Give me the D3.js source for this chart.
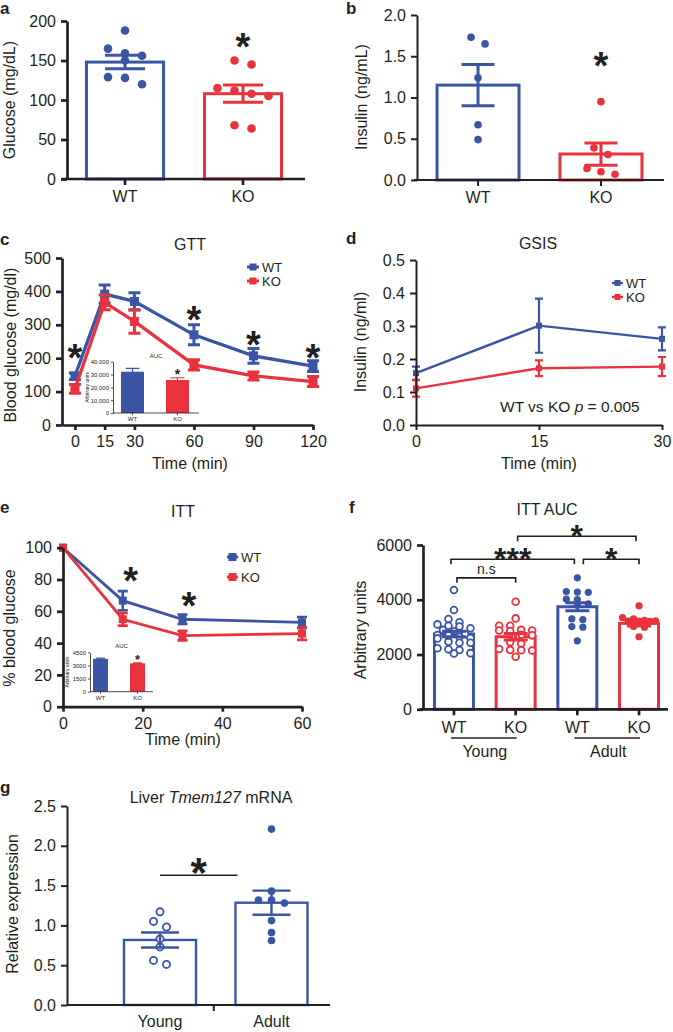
<!DOCTYPE html>
<html><head><meta charset="utf-8">
<script src="https://cdn.jsdelivr.net/npm/d3@7"></script>
<style>
body{margin:0;background:#fff;}
svg{display:block;}
</style></head><body>
<svg id="chart" width="673" height="1032"></svg>
<script>
// ---------------- DATA ----------------
const groupsAB = ["WT", "KO"];
// a: fasting glucose
const glucoseWT = [188, 165, 159, 156, 150, 129, 128, 120];
const glucoseKO = [150, 145, 115, 112, 108, 105, 68, 64];
const glucoseMean = [148, 108];
const glucoseSEM = [8.5, 11];
const glucoseTicks = [0, 50, 100, 150, 200];
// b: insulin
const insulinWT = [1.73, 1.65, 1.24, 0.67, 0.49];
const insulinKO = [0.95, 0.39, 0.31, 0.14, 0.10, 0.07];
const insulinMean = [1.15, 0.315];
const insulinSEM = [0.25, 0.135];
const insulinTicks = [0, 0.5, 1.0, 1.5, 2.0];
// c: GTT
const gttTime = [0, 15, 30, 60, 90, 120];
const gttWT = [146, 392, 370, 270, 207, 176];
const gttWTsem = [10, 27, 26, 30, 22, 16];
const gttKO = [108, 367, 310, 180, 147, 130];
const gttKOsem = [13, 22, 35, 15, 12, 15];
const gttSig = [[0, 224], [60, 338], [90, 263], [120, 224]];
const gttYTicks = [0, 100, 200, 300, 400, 500];
const gttAuc = [32200, 25700];
const gttAucSem = [2600, 1800];
const gttAucTicks = [0, 10000, 20000, 30000, 40000];
const gttAucSig = [32750];
// d: GSIS
const gsisTime = [0, 15, 30];
const gsisWT = [0.157, 0.301, 0.261];
const gsisWTsem = [0.02, 0.082, 0.035];
const gsisKO = [0.111, 0.172, 0.177];
const gsisKOsem = [0.025, 0.024, 0.029];
const gsisYTicks = [0, 0.1, 0.2, 0.3, 0.4, 0.5];
// e: ITT
const ittTime = [0, 15, 30, 60];
const ittWT = [100, 66.7, 55, 53];
const ittWTsem = [0, 6, 3, 3.4];
const ittKO = [100, 55, 44.7, 46];
const ittKOsem = [0, 4, 3, 4];
const ittSig = [[17, 84], [31.6, 68.4]];
const ittYTicks = [0, 20, 40, 60, 80, 100];
const ittXTicks = [0, 20, 40, 60];
const ittAuc = [3750, 3240];
const ittAucSem = [80, 60];
const ittAucTicks = [0, 1500, 3000, 4500];
const ittAucSig = [3960];
// f: ITT AUC
const fGroups = ["YWT", "YKO", "AWT", "AKO"];
const fLabels = ["WT", "KO", "WT", "KO"];
const fYoungWT = [4355, 3625, 3297, 3175, 3100, 3050, 3020, 2960, 2900, 2850, 2740, 2710, 2650, 2600, 2590, 2470, 2430, 2430, 2230, 2190, 2165, 2040, 2050, 2700];
const fYoungKO = [3930, 3320, 3050, 3050, 2900, 2880, 2880, 2860, 2720, 2700, 2650, 2450, 2400, 2200, 2170, 2160, 2150, 1920];
const fAdultWT = [4800, 4300, 4280, 4270, 4020, 4010, 3850, 3800, 3300, 3280, 3020, 3000, 2500];
const fAdultKO = [3780, 3350, 3300, 3250, 3230, 3220, 3220, 3210, 3020, 3000, 2650];
const fMean = [2750, 2650, 3745, 3140];
const fSem = [100, 115, 150, 95];
const fTicks = [0, 2000, 4000, 6000];
const fBrackets = [[0, 1, 4800, "n.s"], [0, 2, 5480, "***"], [2, 3, 5480, "*"], [1, 3, 6320, "*"]];
// g: liver Tmem127
const gGroups = ["Young", "Adult"];
const gYoung = [1.17, 1.05, 0.98, 0.83, 0.73, 0.51, 0.56];
const gAdult = [2.21, 1.43, 1.32, 1.28, 1.32, 1.06, 0.91, 0.81];
const gMean = [0.817, 1.285];
const gSem = [0.094, 0.152];
const gTicks = [0, 0.5, 1.0, 1.5, 2.0, 2.5];
const gSigLevel = 1.63, gSigStar = 1.78;

// ---------------- STYLE ----------------
const BLUE = "#3a55a4", RED = "#e8323d", INK = "#231f20";
const FONT = "'Liberation Sans', Arial, Helvetica, sans-serif";
const svg = d3.select("#chart").attr("font-family", FONT);

function txt(x, y, s, o = {}) {
  const t = svg.append("text").attr("x", x).attr("y", y)
    .attr("font-size", o.fs || 16).attr("fill", INK)
    .attr("text-anchor", o.anchor || "middle");
  if (o.bold) t.attr("font-weight", "bold");
  if (o.rot) t.attr("transform", `rotate(-90,${x},${y})`);
  t.text(s);
  return t;
}
function star(x, cy, size, s = "*") {
  return svg.append("text").attr("x", x).attr("y", cy + size * 0.56)
    .attr("text-anchor", "middle").attr("font-size", size).attr("font-weight", "bold")
    .attr("fill", INK).text(s);
}
function styleAxis(g, fs, sw) {
  g.attr("font-family", FONT).attr("font-size", fs);
  g.selectAll("path.domain").attr("stroke", INK).attr("stroke-width", sw);
  g.selectAll(".tick line").attr("stroke", INK).attr("stroke-width", sw);
  g.selectAll(".tick text").attr("fill", INK);
}
function yAxis(y, x0, ticks, fmt, fs, sw, tsize = 6, pad = 5) {
  const g = svg.append("g").attr("transform", `translate(${x0},0)`)
    .call(d3.axisLeft(y).tickValues(ticks).tickFormat(fmt).tickSize(tsize).tickPadding(pad).tickSizeOuter(0));
  styleAxis(g, fs, sw);
  return g;
}
function xAxisBand(x, y0, labels, fs, sw, tsize, pad, extent) {
  const g = svg.append("g").attr("transform", `translate(0,${y0})`)
    .call(d3.axisBottom(x).tickFormat((d, i) => labels[i]).tickSize(tsize).tickPadding(pad).tickSizeOuter(0));
  styleAxis(g, fs, sw);
  if (extent) g.select("path.domain").attr("d", `M${extent[0]},0H${extent[1]}`);
  return g;
}
function errBar(g, cx, y, m, s, color, capW, sw) {
  const y1 = y(m + s), y2 = y(m - s);
  g.append("path")
    .attr("d", `M${cx},${y1}V${y2}M${cx - capW / 2},${y1}H${cx + capW / 2}M${cx - capW / 2},${y2}H${cx + capW / 2}`)
    .attr("stroke", color).attr("stroke-width", sw).attr("fill", "none");
}
// row-based scatter layout (points with close values share a row, spread symmetrically)
function rowsLayout(vals, y, binH, s, maxPerRow) {
  const order = vals.map((v, i) => ({ i, y: y(v) })).sort((a, b) => a.y - b.y);
  const out = new Array(vals.length);
  let row = [];
  const flush = () => { row.forEach((p, k) => out[p.i] = (k - (row.length - 1) / 2) * s); row = []; };
  for (const p of order) {
    if (row.length && (p.y - row[0].y > binH || row.length >= maxPerRow)) flush();
    row.push(p);
  }
  flush();
  return out;
}
function dots(g, cx, y, vals, color, r, open, lay) {
  const off = rowsLayout(vals, y, lay.bin, lay.s, lay.max);
  g.selectAll(null).data(vals).join("circle")
    .attr("cx", (v, i) => cx + off[i]).attr("cy", v => y(v)).attr("r", r)
    .attr("fill", open ? "#fff" : color).attr("stroke", color).attr("stroke-width", open ? 1.8 : 0);
}
function barChart(x, y, groups, means, colors, sw) {
  const g = svg.append("g");
  g.selectAll("rect").data(groups).join("rect")
    .attr("x", d => x(d)).attr("width", x.bandwidth())
    .attr("y", (d, i) => y(means[i])).attr("height", (d, i) => y(0) - y(means[i]))
    .attr("fill", "#fff").attr("stroke", (d, i) => colors[i]).attr("stroke-width", sw);
  return g;
}
function lineSeries(x, y, times, vals, sems, color, o) {
  const g = svg.append("g");
  g.append("path").datum(times.map((t, i) => [t, vals[i]]))
    .attr("d", d3.line().x(d => x(d[0])).y(d => y(d[1])))
    .attr("fill", "none").attr("stroke", color).attr("stroke-width", o.lw);
  times.forEach((t, i) => { if (sems[i] > 0) errBar(g, x(t), y, vals[i], sems[i], color, o.cap, o.ew); });
  g.selectAll("rect").data(times).join("rect")
    .attr("x", t => x(t) - o.ms / 2).attr("y", (t, i) => y(vals[i]) - o.ms / 2)
    .attr("width", o.ms).attr("height", o.ms).attr("fill", color);
  return g;
}
function legend(x, y, label, color, o) {
  svg.append("line").attr("x1", x).attr("x2", x + o.len).attr("y1", y).attr("y2", y)
    .attr("stroke", color).attr("stroke-width", o.lw);
  svg.append("rect").attr("x", x + o.len / 2 - o.ms / 2).attr("y", y - o.ms / 2)
    .attr("width", o.ms).attr("height", o.ms).attr("fill", color);
  txt(x + o.len + 3, y + o.fs * 0.36, label, { fs: o.fs, anchor: "start" });
}
function inset(o) {
  const x = d3.scaleBand().domain(groupsAB).range(o.xr).paddingInner(o.pi).paddingOuter(o.po);
  const y = d3.scaleLinear().domain([0, o.ticks[o.ticks.length - 1]]).range(o.yr);
  const g = svg.append("g");
  g.selectAll("rect").data(groupsAB).join("rect")
    .attr("x", d => x(d)).attr("width", x.bandwidth())
    .attr("y", (d, i) => y(o.vals[i])).attr("height", (d, i) => y(0) - y(o.vals[i]))
    .attr("fill", (d, i) => [BLUE, RED][i]);
  groupsAB.forEach((d, i) => errBar(g, x(d) + x.bandwidth() / 2, y, o.vals[i], o.sems[i], [BLUE, RED][i], x.bandwidth() * 0.6, 1.2));
  yAxis(y, o.xr[0], o.ticks, o.fmt, o.fs, 0.8, 2, 2);
  xAxisBand(x, o.yr[0], groupsAB, o.fs, 0.8, 2, 2, [o.xr[0], o.xEnd]);
  txt((o.xr[0] + o.xEnd) / 2 + o.aucDx, o.yr[1] - 4, "AUC", { fs: o.fs });
  txt(o.ylx, (o.yr[0] + o.yr[1]) / 2, "Arbitrary units", { fs: o.fs - 1, rot: true });
  star(x("KO") + x.bandwidth() / 2, y(o.sig), o.starSize);
}

// ---------------- PANEL a ----------------
{
  const x = d3.scaleBand().domain(groupsAB).range([66, 302]).paddingInner(0.347).paddingOuter(0.1735);
  const y = d3.scaleLinear().domain([0, 200]).range([179, 21]);
  const g = barChart(x, y, groupsAB, glucoseMean, [BLUE, RED], 3);
  const c = d => x(d) + x.bandwidth() / 2;
  const lay = { bin: 8, s: 17, max: 4 };
  dots(g, c("WT"), y, glucoseWT, BLUE, 4.3, false, lay);
  dots(g, c("KO"), y, glucoseKO, RED, 4.3, false, lay);
  errBar(g, c("WT"), y, glucoseMean[0], glucoseSEM[0], BLUE, 40, 3);
  errBar(g, c("KO"), y, glucoseMean[1], glucoseSEM[1], RED, 40, 3);
  yAxis(y, 67, glucoseTicks, d3.format("d"), 16, 2.7);
  xAxisBand(x, 179, groupsAB, 16, 2.7, 6, 6, [62, 305]);
  txt(15, 100, "Glucose (mg/dL)", { rot: true });
  txt(0, 14, "a", { bold: true, fs: 17, anchor: "start" });
  star(c("KO"), y(178), 38);
}
// ---------------- PANEL b ----------------
{
  const x = d3.scaleBand().domain(groupsAB).range([417, 662]).paddingInner(0.333).paddingOuter(0.163);
  const y = d3.scaleLinear().domain([0, 2]).range([180, 15]);
  const g = barChart(x, y, groupsAB, insulinMean, [BLUE, RED], 3);
  const c = d => x(d) + x.bandwidth() / 2;
  const lay = { bin: 7, s: 14, max: 3 };
  dots(g, c("WT"), y, insulinWT, BLUE, 3.8, false, lay);
  dots(g, c("KO"), y, insulinKO, RED, 3.8, false, lay);
  errBar(g, c("WT"), y, insulinMean[0], insulinSEM[0], BLUE, 33, 3);
  errBar(g, c("KO"), y, insulinMean[1], insulinSEM[1], RED, 33, 3);
  yAxis(y, 417, insulinTicks, d3.format(".1f"), 16, 2);
  xAxisBand(x, 180, groupsAB, 16, 2, 6, 6, [414, 664]);
  txt(367, 97, "Insulin (ng/mL)", { rot: true });
  txt(346, 14, "b", { bold: true, fs: 17, anchor: "start" });
  star(c("KO"), y(1.485), 38);
}
// ---------------- PANEL c ----------------
{
  const x = d3.scaleLinear().domain([-6.5, 120]).range([62, 313]);
  const y = d3.scaleLinear().domain([0, 500]).range([425, 258]);
  const o = { lw: 3.3, cap: 12, ew: 3, ms: 9 };
  lineSeries(x, y, gttTime, gttWT, gttWTsem, BLUE, o);
  lineSeries(x, y, gttTime, gttKO, gttKOsem, RED, o);
  yAxis(y, 62, gttYTicks, d3.format("d"), 16, 2.7);
  const gx = svg.append("g").attr("transform", "translate(0,425)")
    .call(d3.axisBottom(x).tickValues(gttTime).tickSize(5).tickPadding(6).tickSizeOuter(0));
  styleAxis(gx, 16, 2.7);
  gttSig.forEach(([t, v]) => star(x(t), y(v), 38));
  txt(190, 250, "GTT");
  txt(190, 469, "Time (min)");
  txt(16, 345, "Blood glucose (mg/dl)", { rot: true });
  txt(0, 245, "c", { bold: true, fs: 17, anchor: "start" });
  legend(247, 267, "WT", BLUE, { len: 12, lw: 3, ms: 7, fs: 13 });
  legend(247, 281, "KO", RED, { len: 12, lw: 3, ms: 7, fs: 13 });
  inset({ xr: [113, 197], pi: 0.489, po: 0.178, xEnd: 199, yr: [413, 361.7], ticks: gttAucTicks, fmt: d3.format(","),
    vals: gttAuc, sems: gttAucSem, fs: 6, aucDx: 0, ylx: 89, sig: gttAucSig[0], starSize: 14 });
}
// ---------------- PANEL d ----------------
{
  const x = d3.scaleLinear().domain([0, 30]).range([416, 662]);
  const y = d3.scaleLinear().domain([0, 0.5]).range([425, 260]);
  const o = { lw: 2.4, cap: 8, ew: 2.2, ms: 6 };
  lineSeries(x, y, gsisTime, gsisWT, gsisWTsem, BLUE, o);
  lineSeries(x, y, gsisTime, gsisKO, gsisKOsem, RED, o);
  yAxis(y, 416, gsisYTicks, d3.format(".1f"), 16, 2);
  const gx = svg.append("g").attr("transform", "translate(0,425)")
    .call(d3.axisBottom(x).tickValues(gsisTime).tickSize(5).tickPadding(6).tickSizeOuter(0));
  styleAxis(gx, 16, 2);
  txt(538, 249, "GSIS");
  txt(539, 469, "Time (min)");
  txt(366, 342, "Insulin (ng/ml)", { rot: true });
  txt(346, 244, "d", { bold: true, fs: 17, anchor: "start" });
  legend(612, 283, "WT", BLUE, { len: 11, lw: 2.4, ms: 6, fs: 13 });
  legend(612, 297, "KO", RED, { len: 11, lw: 2.4, ms: 6, fs: 13 });
  const a = txt(500, 412, "WT vs KO ", { anchor: "start", fs: 15.5 });
  a.append("tspan").attr("font-style", "italic").text("p");
  a.append("tspan").text(" = 0.005");
}
// ---------------- PANEL e ----------------
{
  const x = d3.scaleLinear().domain([0, 60]).range([63, 302]);
  const y = d3.scaleLinear().domain([0, 100]).range([706.7, 547.7]);
  const o = { lw: 2.8, cap: 10, ew: 2.6, ms: 8 };
  lineSeries(x, y, ittTime, ittWT, ittWTsem, BLUE, o);
  lineSeries(x, y, ittTime, ittKO, ittKOsem, RED, o);
  yAxis(y, 63, ittYTicks, d3.format("d"), 16, 2.7);
  const gx = svg.append("g").attr("transform", "translate(0,706.7)")
    .call(d3.axisBottom(x).tickValues(ittXTicks).tickSize(5).tickPadding(6).tickSizeOuter(0));
  styleAxis(gx, 16, 2.7);
  ittSig.forEach(([t, v]) => star(x(t), y(v), 38));
  txt(183, 517, "ITT");
  txt(183, 745, "Time (min)");
  txt(15, 628, "% blood glucose", { rot: true });
  txt(0, 513, "e", { bold: true, fs: 17, anchor: "start" });
  legend(227, 557, "WT", BLUE, { len: 11, lw: 2.8, ms: 8, fs: 13 });
  legend(227, 577, "KO", RED, { len: 11, lw: 2.8, ms: 8, fs: 13 });
  inset({ xr: [90, 148], pi: 0.595, po: 0.081, xEnd: 153, yr: [691.7, 652.3], ticks: ittAucTicks, fmt: d3.format("d"),
    vals: ittAuc, sems: ittAucSem, fs: 6, aucDx: 0, ylx: 69, sig: ittAucSig[0], starSize: 13 });
}
// ---------------- PANEL f ----------------
{
  const x = d3.scaleBand().domain(fGroups).range([423, 670]).paddingInner(0.368).paddingOuter(0.186);
  const y = d3.scaleLinear().domain([0, 6000]).range([709.3, 545]);
  const cols = [BLUE, RED, BLUE, RED];
  const g = barChart(x, y, fGroups, fMean, cols, 3);
  const c = d => x(d) + x.bandwidth() / 2;
  const pts = [fYoungWT, fYoungKO, fAdultWT, fAdultKO];
  const lay = { bin: 5, s: 11, max: 4 };
  fGroups.forEach((grp, i) => dots(g, c(grp), y, pts[i], cols[i], i < 2 ? 3.4 : 3.6, i < 2, lay));
  fGroups.forEach((grp, i) => errBar(g, c(grp), y, fMean[i], fSem[i], cols[i], 24, 3));
  yAxis(y, 423, fTicks, d3.format("d"), 16, 2.7);
  xAxisBand(x, 709.3, fLabels, 16, 2.7, 6, 6, [420, 668]);
  [[0, 1, "Young"], [2, 3, "Adult"]].forEach(([a, b, lab]) => {
    svg.append("line").attr("x1", c(fGroups[a]) - 3).attr("x2", c(fGroups[b]) + 1)
      .attr("y1", 738).attr("y2", 738).attr("stroke", INK).attr("stroke-width", 1.6);
    txt((c(fGroups[a]) + c(fGroups[b])) / 2, 757, lab);
  });
  fBrackets.forEach(([a, b, lvl, lab], k) => {
    let x1 = c(fGroups[a]), x2 = c(fGroups[b]);
    if (k === 0) x1 += 3;
    if (k === 1) { x1 -= 3; x2 -= 3; }
    if (k === 2) x1 += 6;
    if (k === 3) { x1 += 2; x2 -= 3; }
    const yy = y(lvl);
    svg.append("path").attr("d", `M${x1},${yy + 5}V${yy}H${x2}V${yy + 5}`)
      .attr("fill", "none").attr("stroke", INK).attr("stroke-width", 1.6);
    if (lab === "n.s") txt((x1 + x2) / 2, yy - 4, lab, { fs: 14 });
    else star((x1 + x2) / 2, yy - 7, 32, lab);
  });
  txt(547, 515, "ITT AUC");
  txt(366, 630, "Arbitrary units", { rot: true });
  txt(349, 513, "f", { bold: true, fs: 17, anchor: "start" });
}
// ---------------- PANEL g ----------------
{
  const x = d3.scaleBand().domain(gGroups).range([67, 364.5]).paddingInner(0.354).paddingOuter(0.511);
  const y = d3.scaleLinear().domain([0, 2.5]).range([1005, 806]);
  const g = barChart(x, y, gGroups, gMean, [BLUE, BLUE], 2.4);
  const c = d => x(d) + x.bandwidth() / 2;
  const lay = { bin: 7, s: 13, max: 3 };
  dots(g, c("Young"), y, gYoung, BLUE, 3.6, true, lay);
  dots(g, c("Adult"), y, gAdult, BLUE, 3.8, false, lay);
  gGroups.forEach((grp, i) => errBar(g, c(grp), y, gMean[i], gSem[i], BLUE, 38, 2.4));
  yAxis(y, 67, gTicks, d3.format(".1f"), 16, 2);
  xAxisBand(x, 1005, gGroups, 16, 2, 0, 11, [67, 330]);
  const mid = (c("Young") + c("Adult")) / 2 - 2;
  svg.append("line").attr("x1", mid).attr("x2", mid).attr("y1", 1005).attr("y2", 1011)
    .attr("stroke", INK).attr("stroke-width", 2);
  const x1 = c("Young"), x2 = x("Adult") + 2;
  svg.append("line").attr("x1", x1).attr("x2", x2).attr("y1", y(gSigLevel)).attr("y2", y(gSigLevel))
    .attr("stroke", INK).attr("stroke-width", 1.6);
  star((x1 + x2) / 2, y(gSigStar), 42);
  const t = txt(211, 803, "Liver ");
  t.append("tspan").attr("font-style", "italic").text("Tmem127");
  t.append("tspan").text(" mRNA");
  txt(18, 904, "Relative expression", { rot: true });
  txt(0, 793, "g", { bold: true, fs: 17, anchor: "start" });
}
</script></body></html>
